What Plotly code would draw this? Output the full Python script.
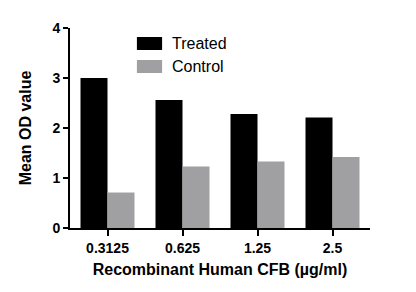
import plotly.graph_objects as go

categories = ["0.3125", "0.625", "1.25", "2.5"]
treated = [3.0, 2.56, 2.28, 2.21]
control = [0.71, 1.23, 1.33, 1.42]
series_names = ["Treated", "Control"]
colors = ["#000000", "#A0A0A3"]

fig = go.Figure()
for name, vals, col in zip(series_names, [treated, control], colors):
    fig.add_trace(go.Bar(x=categories, y=vals, name=name, marker_color=col,
                         marker_line_width=0, showlegend=False))

font_family = "Arial, Liberation Sans, sans-serif"
# custom legend
leg_y = [0.9225, 0.8075]
for name, col, yy in zip(series_names, colors, leg_y):
    fig.add_shape(type="rect", xref="paper", yref="paper",
                  x0=0.223, x1=0.307, y0=yy - 0.0325, y1=yy + 0.0325,
                  fillcolor=col, line_width=0)
    fig.add_annotation(xref="paper", yref="paper", x=0.334, y=yy, text=name,
                       showarrow=False, xanchor="left", yanchor="middle",
                       font=dict(family=font_family, size=16, color="#000"))

fig.update_layout(
    width=416, height=292,
    margin=dict(l=70, r=46, t=28, b=64),
    plot_bgcolor="white", paper_bgcolor="white",
    barmode="group", bargap=0.28, bargroupgap=0,
    font=dict(family=font_family, color="#000"),
)
fig.update_xaxes(
    showline=True, linecolor="black", linewidth=2,
    ticks="outside", ticklen=6, tickwidth=2, tickcolor="black",
    tickfont=dict(size=14, family=font_family, weight="bold"),
    title=dict(text="Recombinant Human CFB (µg/ml)", standoff=9,
               font=dict(size=16, family=font_family, weight="bold")),
    range=[-0.5, 3.5], showgrid=False,
)
fig.update_yaxes(
    showline=True, linecolor="black", linewidth=2,
    ticks="outside", ticklen=5, tickwidth=2, tickcolor="black",
    tickfont=dict(size=14, family=font_family, weight="bold"),
    title=dict(text="Mean OD value", standoff=17,
               font=dict(size=16, family=font_family, weight="bold")),
    range=[0, 4], dtick=1, showgrid=False, zeroline=False,
)
fig.write_html("out.html")
